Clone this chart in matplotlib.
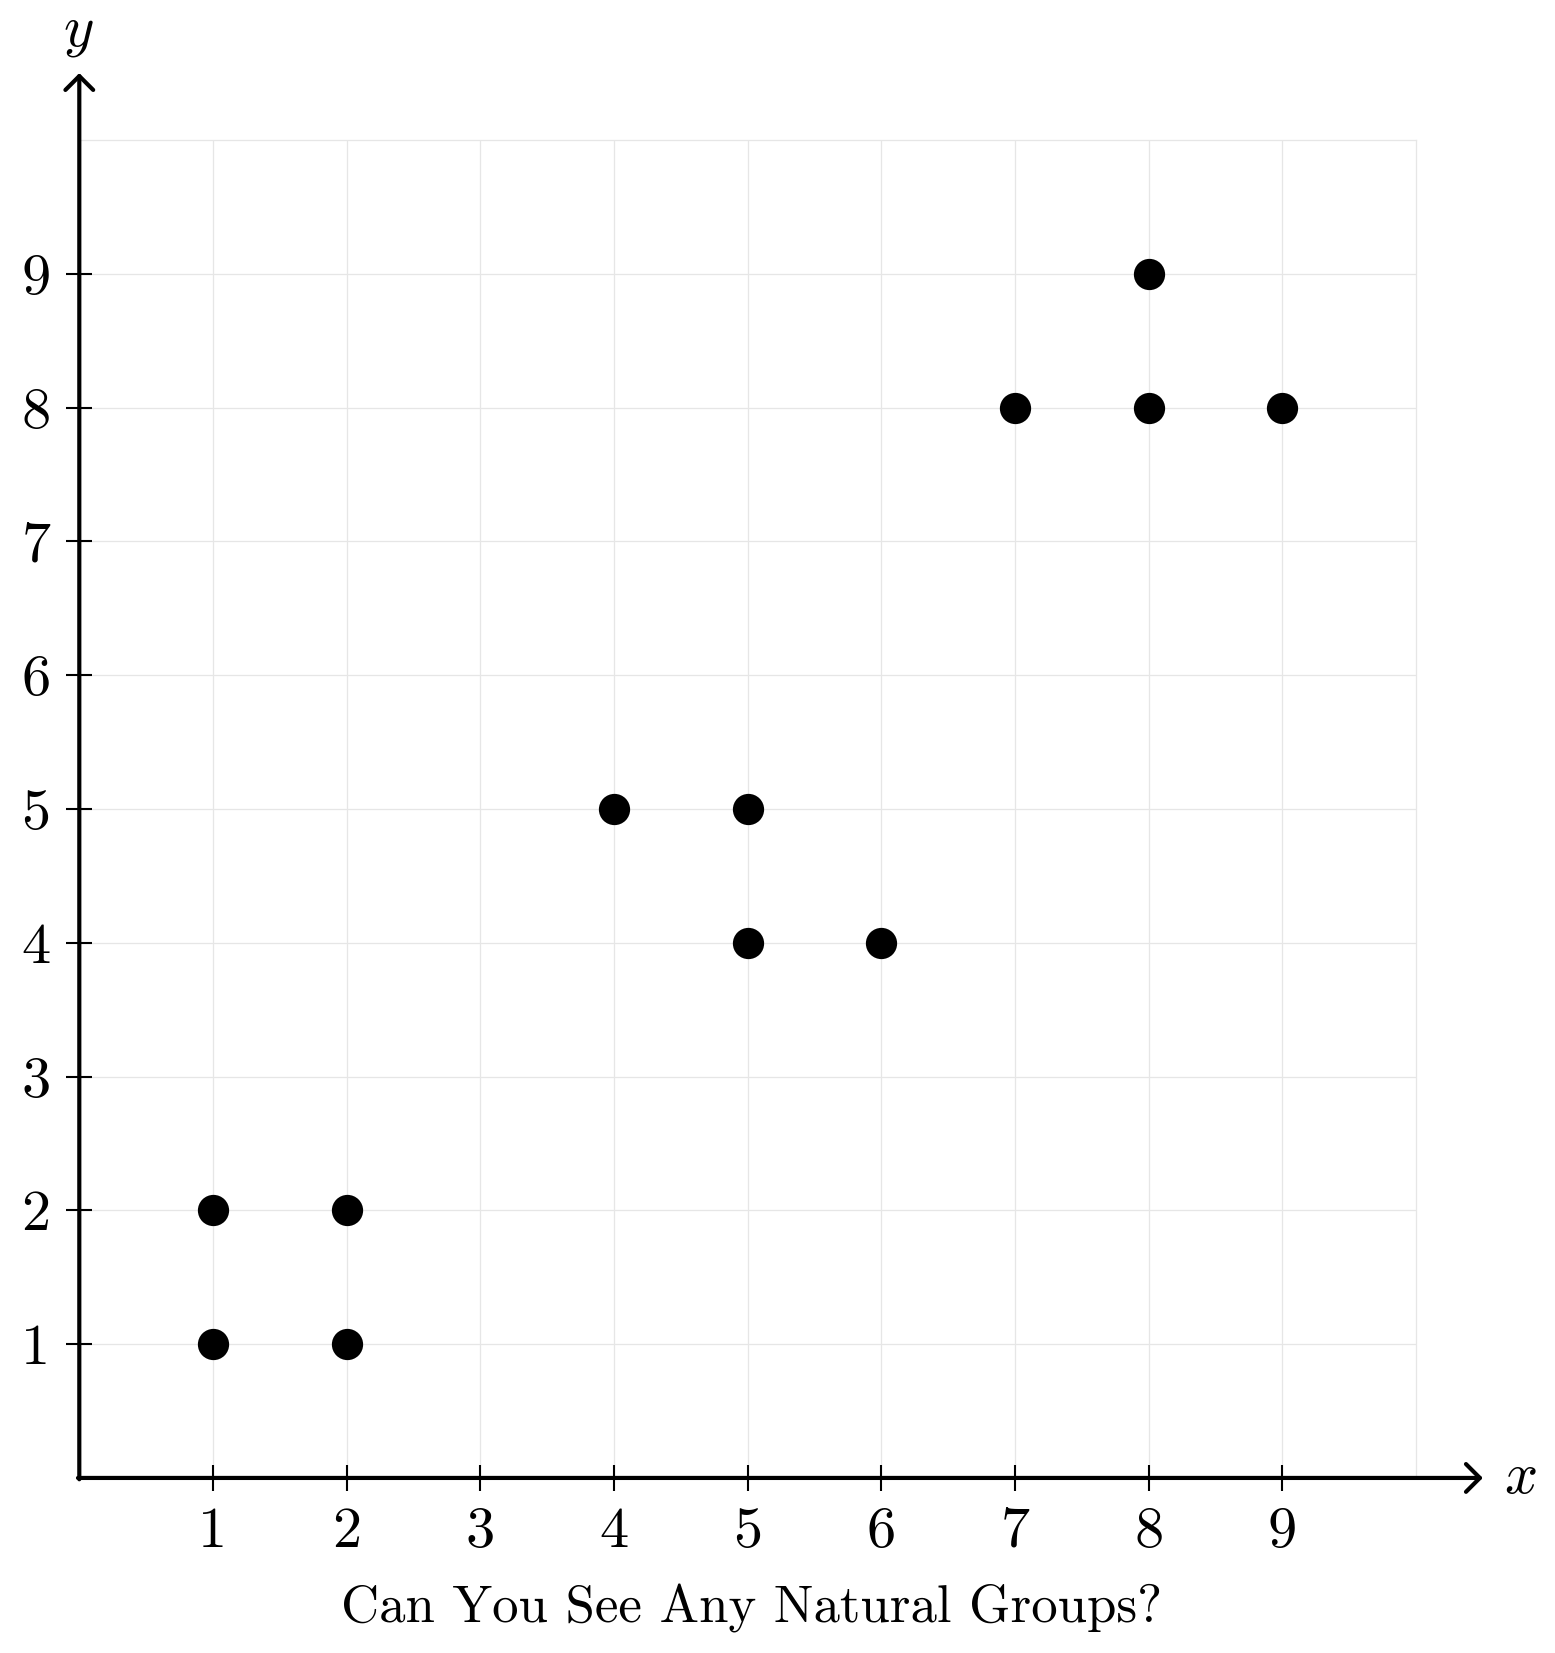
import matplotlib
matplotlib.use("Agg")
import matplotlib.pyplot as plt

plt.rcParams['font.family'] = ['cmr10', 'DejaVu Serif']
plt.rcParams['mathtext.fontset'] = 'cm'
plt.rcParams['axes.formatter.use_mathtext'] = True

# --- data ---
xs = [1, 1, 2, 2, 4, 5, 5, 6, 7, 8, 8, 9]
ys = [1, 2, 1, 2, 5, 5, 4, 4, 8, 8, 9, 8]
tick_vals = [1, 2, 3, 4, 5, 6, 7, 8, 9]
tick_labels = [str(v) for v in tick_vals]
title = "Can You See Any Natural Groups?"

fig = plt.figure(figsize=(7.775, 8.265), dpi=200)
ax = fig.add_axes([0.051, 0.1059, 0.8596, 0.8094])
ax.set_xlim(0, 10)
ax.set_ylim(0, 10)

grid_col = '#e6e6e6'
ax.set_xticks(tick_vals)
ax.set_yticks(tick_vals)
ax.set_xticklabels(tick_labels)
ax.set_yticklabels(tick_labels)
ax.grid(True, color=grid_col, lw=0.45, zorder=0)
ax.tick_params(direction='inout', length=9.7, width=0.75, colors='black',
               labelsize=21, pad=5.5)

for s in ['left', 'bottom']:
    ax.spines[s].set_visible(False)
for s in ['top', 'right']:
    ax.spines[s].set_color(grid_col)
    ax.spines[s].set_linewidth(0.45)

# axis arrows
arrow = dict(arrowstyle='->,head_length=0.25,head_width=0.25', lw=1.5,
             color='black', shrinkA=0, shrinkB=0, mutation_scale=20)
ax.annotate('', xy=(10.5, 0), xytext=(-0.01, 0), arrowprops=arrow,
            annotation_clip=False)
ax.annotate('', xy=(0, 10.5), xytext=(0, -0.01), arrowprops=arrow,
            annotation_clip=False)

ax.scatter(xs, ys, s=105, color='black', zorder=3, clip_on=False)

fig.text(0.9775, 0.1059, '$x$', fontsize=21, ha='center', va='center')
fig.text(0.0502, 0.980, '$y$', fontsize=21, ha='center', va='center')
fig.text(0.483, 0.0272, title, fontsize=19, ha='center', va='center')

fig.savefig('out.png', dpi=200)
